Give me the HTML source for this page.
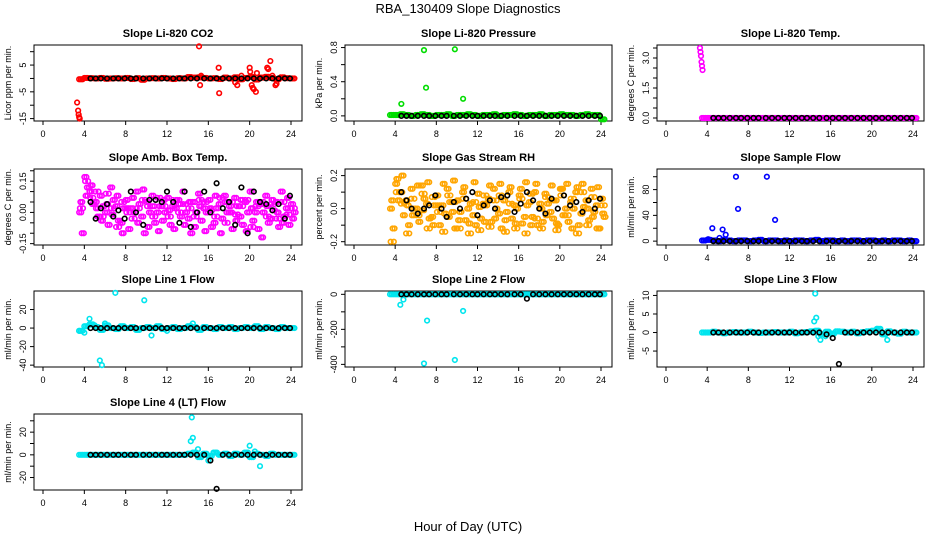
<!DOCTYPE html>
<html><head><meta charset="utf-8"><style>
body{margin:0;background:#fff;width:936px;height:540px;overflow:hidden}
svg{display:block;font-family:"Liberation Sans",Arial,sans-serif}
</style></head><body>
<svg id="chart" width="936" height="540">
<text x="468" y="13" text-anchor="middle" font-size="13">RBA_130409  Slope Diagnostics</text>
<text x="468" y="531" text-anchor="middle" font-size="13">Hour of Day (UTC)</text>
</svg>
<script>
const xTicks=[0,4,8,12,16,20,24];
const H=[3.5,4,4.5,5,5.5,6,6.5,7,7.5,8,8.5,9,9.5,10,10.5,11,11.5,12,12.5,13,13.5,14,14.5,15,15.5,16,16.5,17,17.5,18,18.5,19,19.5,20,20.5,21,21.5,22,22.5,23,23.5,24];
const B=[4.6,5.1,5.6,6.2,6.8,7.3,7.9,8.5,9.0,9.7,10.3,10.9,11.5,12.0,12.6,13.2,13.7,14.3,14.9,15.6,16.2,16.8,17.4,18.0,18.6,19.2,19.8,20.4,21.0,21.6,22.2,22.8,23.4,23.9];
const Z42=[0,0,0,0,0,0,0,0,0,0,0,0,0,0,0,0,0,0,0,0,0,0,0,0,0,0,0,0,0,0,0,0,0,0,0,0,0,0,0,0,0,0];
const Z34=[0,0,0,0,0,0,0,0,0,0,0,0,0,0,0,0,0,0,0,0,0,0,0,0,0,0,0,0,0,0,0,0,0,0];
const co2Base=[-0.3,0.2,0.1,0,0.2,-0.1,0,0.1,0,0.2,-0.2,0.1,-0.5,0,0.1,0,0.2,0,-0.2,0.1,0,0.5,0.3,0.4,0.2,0,0.1,-0.2,0.3,0,0.4,-0.3,0.2,0.5,-0.4,0.3,0.6,0.2,-0.3,0.4,0.1,0];
const co2OutX=[3.3,3.4,3.45,3.5,3.55,15.1,15.2,15.3,17,17.05,18.6,18.8,20,20.05,20.2,20.3,20.4,20.6,20.7,21.7,21.8,22,22.5,22.6,22.2,19.2];
const co2OutY=[-9,-12,-13.5,-14.5,-15,12,-2.5,1,4,-5.5,-1.5,-2.5,4,2.5,-2.5,-3.5,-4,-5,2,4,3.5,6.5,-2.5,-2,1,1];
const prBase=[0.01,0.01,0.02,0.01,0,0.01,0.02,0.01,0,0.01,0.01,0.02,0,0.01,0.01,0.02,0.01,0,0.01,0.01,0.02,0,0.01,0.01,0.02,0.01,0,0.01,0.01,0.02,0,0.01,0.01,0.02,0.01,0.01,0,0.01,0.02,0.01,0.01,-0.04];
const prOutX=[4.6,6.8,7,9.8,10.6];
const prOutY=[0.14,0.77,0.33,0.78,0.2];
const tpOutX=[3.3,3.35,3.4,3.45,3.5,3.55];
const tpOutY=[3.5,3.3,3.1,2.8,2.6,2.4];
const abA=[0.0,0.17,0.1,0.05,0.08,0.0,0.12,0.03,-0.05,0.06,0.02,0.1,-0.02,0.05,0.08,0.0,-0.04,0.07,0.03,0.06,0.1,-0.03,0.05,0.09,0.02,0.06,-0.05,0.04,0.08,0.03,0.07,-0.02,0.05,0.1,0.0,0.04,0.08,-0.03,0.05,0.1,0.02,0.04];
const abB=[-0.1,0.12,0.04,-0.02,0.03,-0.06,0.06,-0.04,0.02,-0.08,0.0,0.04,-0.1,0.0,-0.05,0.03,0.0,-0.06,0.02,-0.02,0.0,-0.1,0.0,-0.04,0.0,-0.07,0.02,-0.03,0.0,-0.08,0.03,-0.06,0.0,-0.04,-0.08,0.0,-0.05,0.01,-0.07,-0.02,-0.06,0.0];
const abC=[0.05,0.08,0.13,0.02,-0.04,0.04,-0.01,0.08,-0.1,0.02,0.07,-0.05,0.11,-0.07,0.03,-0.09,0.06,0.01,-0.08,0.04,-0.06,0.05,-0.07,0.03,-0.09,0.02,0.08,-0.1,0.05,0.0,-0.04,0.06,-0.09,0.02,0.05,-0.12,0.03,0.06,0.0,-0.05,0.07,-0.03];
const abD=[0.02,0.15,0.07,0.1,-0.02,0.09,0.02,-0.07,0.05,0.0,-0.03,0.02,0.06,0.03,-0.02,0.07,0.03,-0.02,0.06,0.0,0.04,0.02,-0.02,0.06,0.05,0.01,-0.02,0.07,-0.05,0.05,-0.01,0.03,0.06,-0.07,0.03,0.05,-0.02,0.04,-0.03,0.05,-0.01,0.02];
const abBlack=[0.05,-0.03,0.02,0.04,-0.02,0.01,-0.03,0.1,0.0,-0.06,0.06,0.06,0.05,0.1,0.05,-0.05,0.1,-0.07,0.0,0.1,0.0,0.14,0.02,0.05,-0.06,0.12,-0.1,0.1,0.05,0.04,0.01,0.04,-0.03,0.08];
const rhA=[0.0,0.15,0.1,0.05,0.12,0.0,0.14,0.03,-0.05,0.08,0.02,0.12,-0.02,0.05,0.1,0.0,-0.04,0.09,0.03,0.06,0.12,-0.03,0.05,0.1,0.02,0.08,-0.05,0.04,0.1,0.03,0.09,-0.02,0.05,0.12,0.0,0.04,0.1,-0.03,0.05,0.12,0.02,0.06];
const rhB=[-0.12,0.05,-0.04,-0.1,0.0,-0.08,0.06,-0.06,0.02,-0.1,-0.03,0.04,-0.12,-0.02,-0.07,0.03,-0.1,-0.06,0.02,-0.08,0.0,-0.12,-0.02,-0.06,0.0,-0.09,0.02,-0.05,-0.1,-0.08,0.03,-0.06,-0.1,-0.04,-0.08,0.0,-0.1,0.01,-0.07,-0.02,-0.12,-0.05];
const rhC=[0.05,0.18,0.2,0.02,-0.04,0.14,-0.01,0.16,-0.1,0.02,0.15,-0.05,0.17,-0.07,0.13,-0.09,0.16,0.01,-0.08,0.14,-0.06,0.15,-0.07,0.13,-0.09,0.12,0.16,-0.1,0.15,0.0,-0.04,0.14,-0.09,0.12,0.15,-0.12,0.13,0.15,0.0,-0.05,0.13,-0.03];
const rhD=[-0.2,0.1,0.03,-0.15,0.06,-0.04,0.09,-0.12,0.07,-0.02,-0.14,0.08,0.04,-0.12,0.06,-0.15,0.04,-0.13,0.08,-0.11,0.05,0.08,-0.14,0.03,-0.12,0.06,-0.15,0.09,-0.06,-0.12,0.07,0.05,-0.13,0.08,-0.04,0.06,-0.15,0.1,-0.1,0.07,-0.12,0.02];
const rhBlack=[0.1,0.05,0.0,-0.03,0.0,0.02,0.08,0.0,-0.05,0.04,0.0,0.06,0.1,-0.04,0.02,0.05,0.0,0.07,0.08,-0.02,0.03,0.1,0.05,0.0,-0.03,0.06,0.0,0.08,0.02,0.04,-0.02,0.05,0.0,0.06];
const sfBase=[1,2,1,0,2,1,0,1,1,0,1,2,0,1,1,0,1,0,1,1,0,1,2,0,1,1,0,1,0,1,1,0,1,1,0,1,0,1,1,0,1,0];
const sfOutX=[4.1,4.5,5.2,5.5,5.8,6.8,7,9.8,10.6];
const sfOutY=[3,20,5,18,10,100,50,100,33];
const l1Base=[-3,2,4,1,-2,3,0,-1,2,0,1,-2,0,1,0,2,-1,0,1,-1,0,2,1,-2,1,0,-1,1,0,1,-1,0,1,0,2,-1,1,0,-1,1,0,0];
const l1OutX=[4.5,5.5,5.7,7,9.8,10.5,4,3.5,5,6,12,14.5];
const l1OutY=[10,-35,-40,38,30,-8,-5,-3,3,5,-3,5];
const l2OutX=[4.5,4.8,7.1,6.8,9.8,10.6];
const l2OutY=[-60,-30,-150,-395,-375,-95];
const l2Black=[0,0,0,0,0,0,0,0,0,0,0,0,0,0,0,0,0,0,0,0,0,-25,0,0,0,0,0,0,0,0,0,0,0,0];
const l3Base=[0,0,0.2,0,-0.2,0,0.1,0,0,0.2,0,-0.1,0,0,0.1,0,0,0.2,-0.2,0,0.1,0.3,0.5,-0.5,0.2,-0.3,0.3,0.2,0,0.2,-0.2,0.1,0.3,0.5,1,-0.5,0.3,0,-0.3,0.2,0,0];
const l3OutX=[14.5,14.6,14.4,14.8,15,20.5,21.5,15.5];
const l3OutY=[10.5,4,3,-1,-2,1,-2,-1];
const l3Black=[0,0,0,0,0,0,0,0,0,0,0,0,0,0,0,0,0,0,0,-0.5,-1.5,-8.5,0,0,0,0,0,0,0,0,0,0,0,0];
const l4Base=[0,0,0,0,0,0,0,0,0,0,0,0,0,0,0,0,0,0,0,0,0,1,2,-2,1,-1,2,0,1,-1,1,0,2,-2,1,0,-1,1,0,0,0,0];
const l4OutX=[14.3,14.5,14.4,15,16,20,21,20.5];
const l4OutY=[12,15,33,5,-5,8,-10,3];
const l4Black=[0,0,0,0,0,0,0,0,0,0,0,0,0,0,0,0,0,0,0,0,-5,-30,0,0,0,0,0,0,0,0,0,0,0,0];

const cols=[{l:34,r:302},{l:345,r:612},{l:657,r:924}];
const rows=[45,169,291,414];
const PH=76;
function dense(arr){return [[H,arr,0],[H,arr,0.17],[H,arr,0.33]];}
const panels=[
 {name:'co2',title:'Slope Li-820 CO2',yl:'Licor ppm per min.',c:0,r:0,ymin:-15.9,ymax:12.5,ticks:[-15,-10,-5,0,5,10],labs:[-15,-5,5],col:'#ff0000',layers:[...dense(co2Base),[co2OutX,co2OutY,0]],black:Z34},
 {name:'pressure',title:'Slope Li-820 Pressure',yl:'kPa per min.',c:1,r:0,ymin:-0.06,ymax:0.83,ticks:[0,0.2,0.4,0.6,0.8],labs:[0,0.4,0.8],dec:1,col:'#00dd00',layers:[...dense(prBase),[prOutX,prOutY,0]],black:Z34},
 {name:'temp',title:'Slope Li-820 Temp.',yl:'degrees C per min.',c:2,r:0,ymin:-0.15,ymax:3.65,ticks:[0,0.5,1,1.5,2,2.5,3,3.5],labs:[0,1.5,3],dec:1,col:'#ff00ff',layers:[...dense(Z42),[tpOutX,tpOutY,0]],black:Z34},
 {name:'amb-box-temp',title:'Slope Amb. Box Temp.',yl:'degrees C per min.',c:0,r:1,ymin:-0.1565,ymax:0.2085,ticks:[-0.15,-0.1,-0.05,0,0.05,0.1,0.15,0.2],labs:[-0.15,0,0.15],dec:2,col:'#ff00ff',layers:[[H,abA,0],[H,abB,0.25],[H,abC,0.12],[H,abD,0.37],[H,abC,0.3],[H,abA,0.2],[H,abD,0.07],[H,abB,0.45]],black:abBlack},
 {name:'gas-rh',title:'Slope Gas Stream RH',yl:'percent per min.',c:1,r:1,ymin:-0.22,ymax:0.24,ticks:[-0.2,-0.1,0,0.1,0.2],labs:[-0.2,0,0.2],dec:1,col:'#ffa500',layers:[[H,rhA,0],[H,rhB,0.25],[H,rhC,0.12],[H,rhD,0.37],[H,rhD,0.06],[H,rhC,0.31],[H,rhB,0.44],[H,rhA,0.19]],black:rhBlack},
 {name:'sample-flow',title:'Slope Sample Flow',yl:'ml/min per min.',c:2,r:1,ymin:-6,ymax:112,ticks:[0,20,40,60,80,100],labs:[0,40,80],col:'#0000ff',layers:[...dense(sfBase),[sfOutX,sfOutY,0]],black:Z34},
 {name:'line1-flow',title:'Slope Line 1 Flow',yl:'ml/min per min.',c:0,r:2,ymin:-42,ymax:40,ticks:[-40,-20,0,20],labs:[-40,-20,0,20],col:'#00e5ee',layers:[...dense(l1Base),[l1OutX,l1OutY,0]],black:Z34},
 {name:'line2-flow',title:'Slope Line 2 Flow',yl:'ml/min per min.',c:1,r:2,ymin:-415,ymax:19,ticks:[-400,-300,-200,-100,0],labs:[-400,-200,0],col:'#00e5ee',layers:[...dense(Z42),[l2OutX,l2OutY,0]],black:l2Black},
 {name:'line3-flow',title:'Slope Line 3 Flow',yl:'ml/min per min.',c:2,r:2,ymin:-9.3,ymax:11.2,ticks:[-5,0,5,10],labs:[-5,0,5,10],col:'#00e5ee',layers:[...dense(l3Base),[l3OutX,l3OutY,0]],black:l3Black},
 {name:'line4-flow',title:'Slope Line 4 (LT) Flow',yl:'ml/min per min.',c:0,r:3,ymin:-31,ymax:36,ticks:[-20,-10,0,10,20,30],labs:[-20,0,20],col:'#00e5ee',layers:[...dense(l4Base),[l4OutX,l4OutY,0]],black:l4Black}
];
const NS='http://www.w3.org/2000/svg';
const svg=document.getElementById('chart');
function mk(tag,attrs,parent){const e=document.createElementNS(NS,tag);for(const k in attrs)e.setAttribute(k,attrs[k]);parent.appendChild(e);return e;}
panels.forEach(p=>{
 const L=cols[p.c].l,R=cols[p.c].r,T=rows[p.r],Bt=T+PH;
 const x0=L+9,x24=R-11;
 const xs=h=>x0+(x24-x0)*h/24;
 const ys=v=>Bt-(v-p.ymin)/(p.ymax-p.ymin)*PH;
 const g=mk('g',{},svg);
 
 
 const box=mk('rect',{x:L,y:T,width:R-L,height:PH,fill:'none',stroke:'#000','stroke-width':1},g);
 
 
 const t=mk('text',{x:(L+R)/2,y:T-8,'text-anchor':'middle','font-size':11,'font-weight':'bold'},g);
 t.textContent=p.title;
 
 
 const yl=mk('text',{x:0,y:0,'text-anchor':'middle','font-size':9,transform:`translate(${L-23},${T+PH/2}) rotate(-90)`},g);
 yl.textContent=p.yl;
 
 
 xTicks.forEach(v=>{
  const x=xs(v);
  mk('line',{x1:x,x2:x,y1:Bt,y2:Bt+4,stroke:'#000'},g);
  const tx=mk('text',{x:x,y:Bt+16,'text-anchor':'middle','font-size':9},g);
  tx.textContent=v;
  
  
 });
 p.ticks.forEach(v=>{
  const y=ys(v);
  mk('line',{x1:L,x2:L-4,y1:y,y2:y,stroke:'#000'},g);
 });
 p.labs.forEach(v=>{
  const y=ys(v);
  const ty=mk('text',{x:0,y:0,'text-anchor':'middle','font-size':9,transform:`translate(${L-8},${y}) rotate(-90)`},g);
  ty.textContent=p.dec?v.toFixed(p.dec):String(v);
  
  
 });
 p.layers.forEach(([hx,vy,off])=>{
  hx.forEach((h,i)=>{
   const c=mk('circle',{cx:xs(h+off),cy:ys(vy[i]),r:2.3,fill:'none',stroke:p.col,'stroke-width':1.6},g);
   
   
  });
 });
 B.forEach((h,i)=>{
  const c=mk('circle',{cx:xs(h),cy:ys(p.black[i]),r:2.3,fill:'none',stroke:'#000','stroke-width':1.6},g);
  
  
 });
});
</script>
</body></html>
